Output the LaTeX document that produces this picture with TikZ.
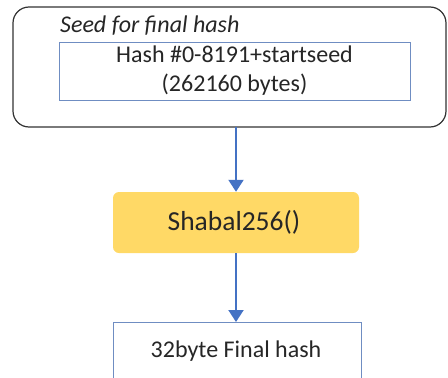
\documentclass[tikz,border=0pt]{standalone}
\usepackage{fontspec}
\setmainfont{Carlito}
\usetikzlibrary{arrows.meta}
\definecolor{flowblue}{HTML}{4472C4}
\definecolor{boxedge}{HTML}{6F8DC2}
\definecolor{gold}{HTML}{FFD966}
\tikzset{
  px/.style={x=1pt,y=-1pt},
  flow/.style={draw=flowblue,line width=2pt,-{Triangle[length=12pt,width=15pt]}},
  plainbox/.style={draw=boxedge,line width=1pt,fill=white},
  txt/.style={font=\fontsize{24}{29}\selectfont,align=center,text=black!85},
}
\begin{document}
\begin{tikzpicture}[px]
\useasboundingbox (0,0) rectangle (448,378);
\clip (0,0) rectangle (448,378);
% outer group with its caption
\draw[black!80,line width=1.2pt,rounded corners=16pt,fill=white] (13,7) rectangle (446,127);
\node[txt,anchor=base west,inner sep=0pt,font=\fontsize{24}{29}\selectfont\itshape] (cap) at (60,32) {Seed for final hash};
% hashes block
\path[plainbox] (59,42) rectangle (410,100);
\node[txt] (seed) at (234.5,71) {Hash \#0-8191+startseed\\(262160 bytes)};
\coordinate (outerbot) at (236,127);
% hashing step
\node[fill=gold,rounded corners=6pt,minimum width=246pt,minimum height=61pt,inner sep=0pt] (shabal) at (236,222.5) {};
\node[txt,font=\fontsize{27.5}{33}\selectfont] at (234,222) {Shabal256()};
% result
\path[plainbox] (113,322) rectangle (361,392);
\node[txt] (final) at (236,351) {32byte Final hash};
\coordinate (finaltop) at (236,322);
% connectors
\draw[flow] (outerbot) -- (shabal.north);
\draw[flow] (shabal.south) -- (finaltop);
\end{tikzpicture}
\end{document}
